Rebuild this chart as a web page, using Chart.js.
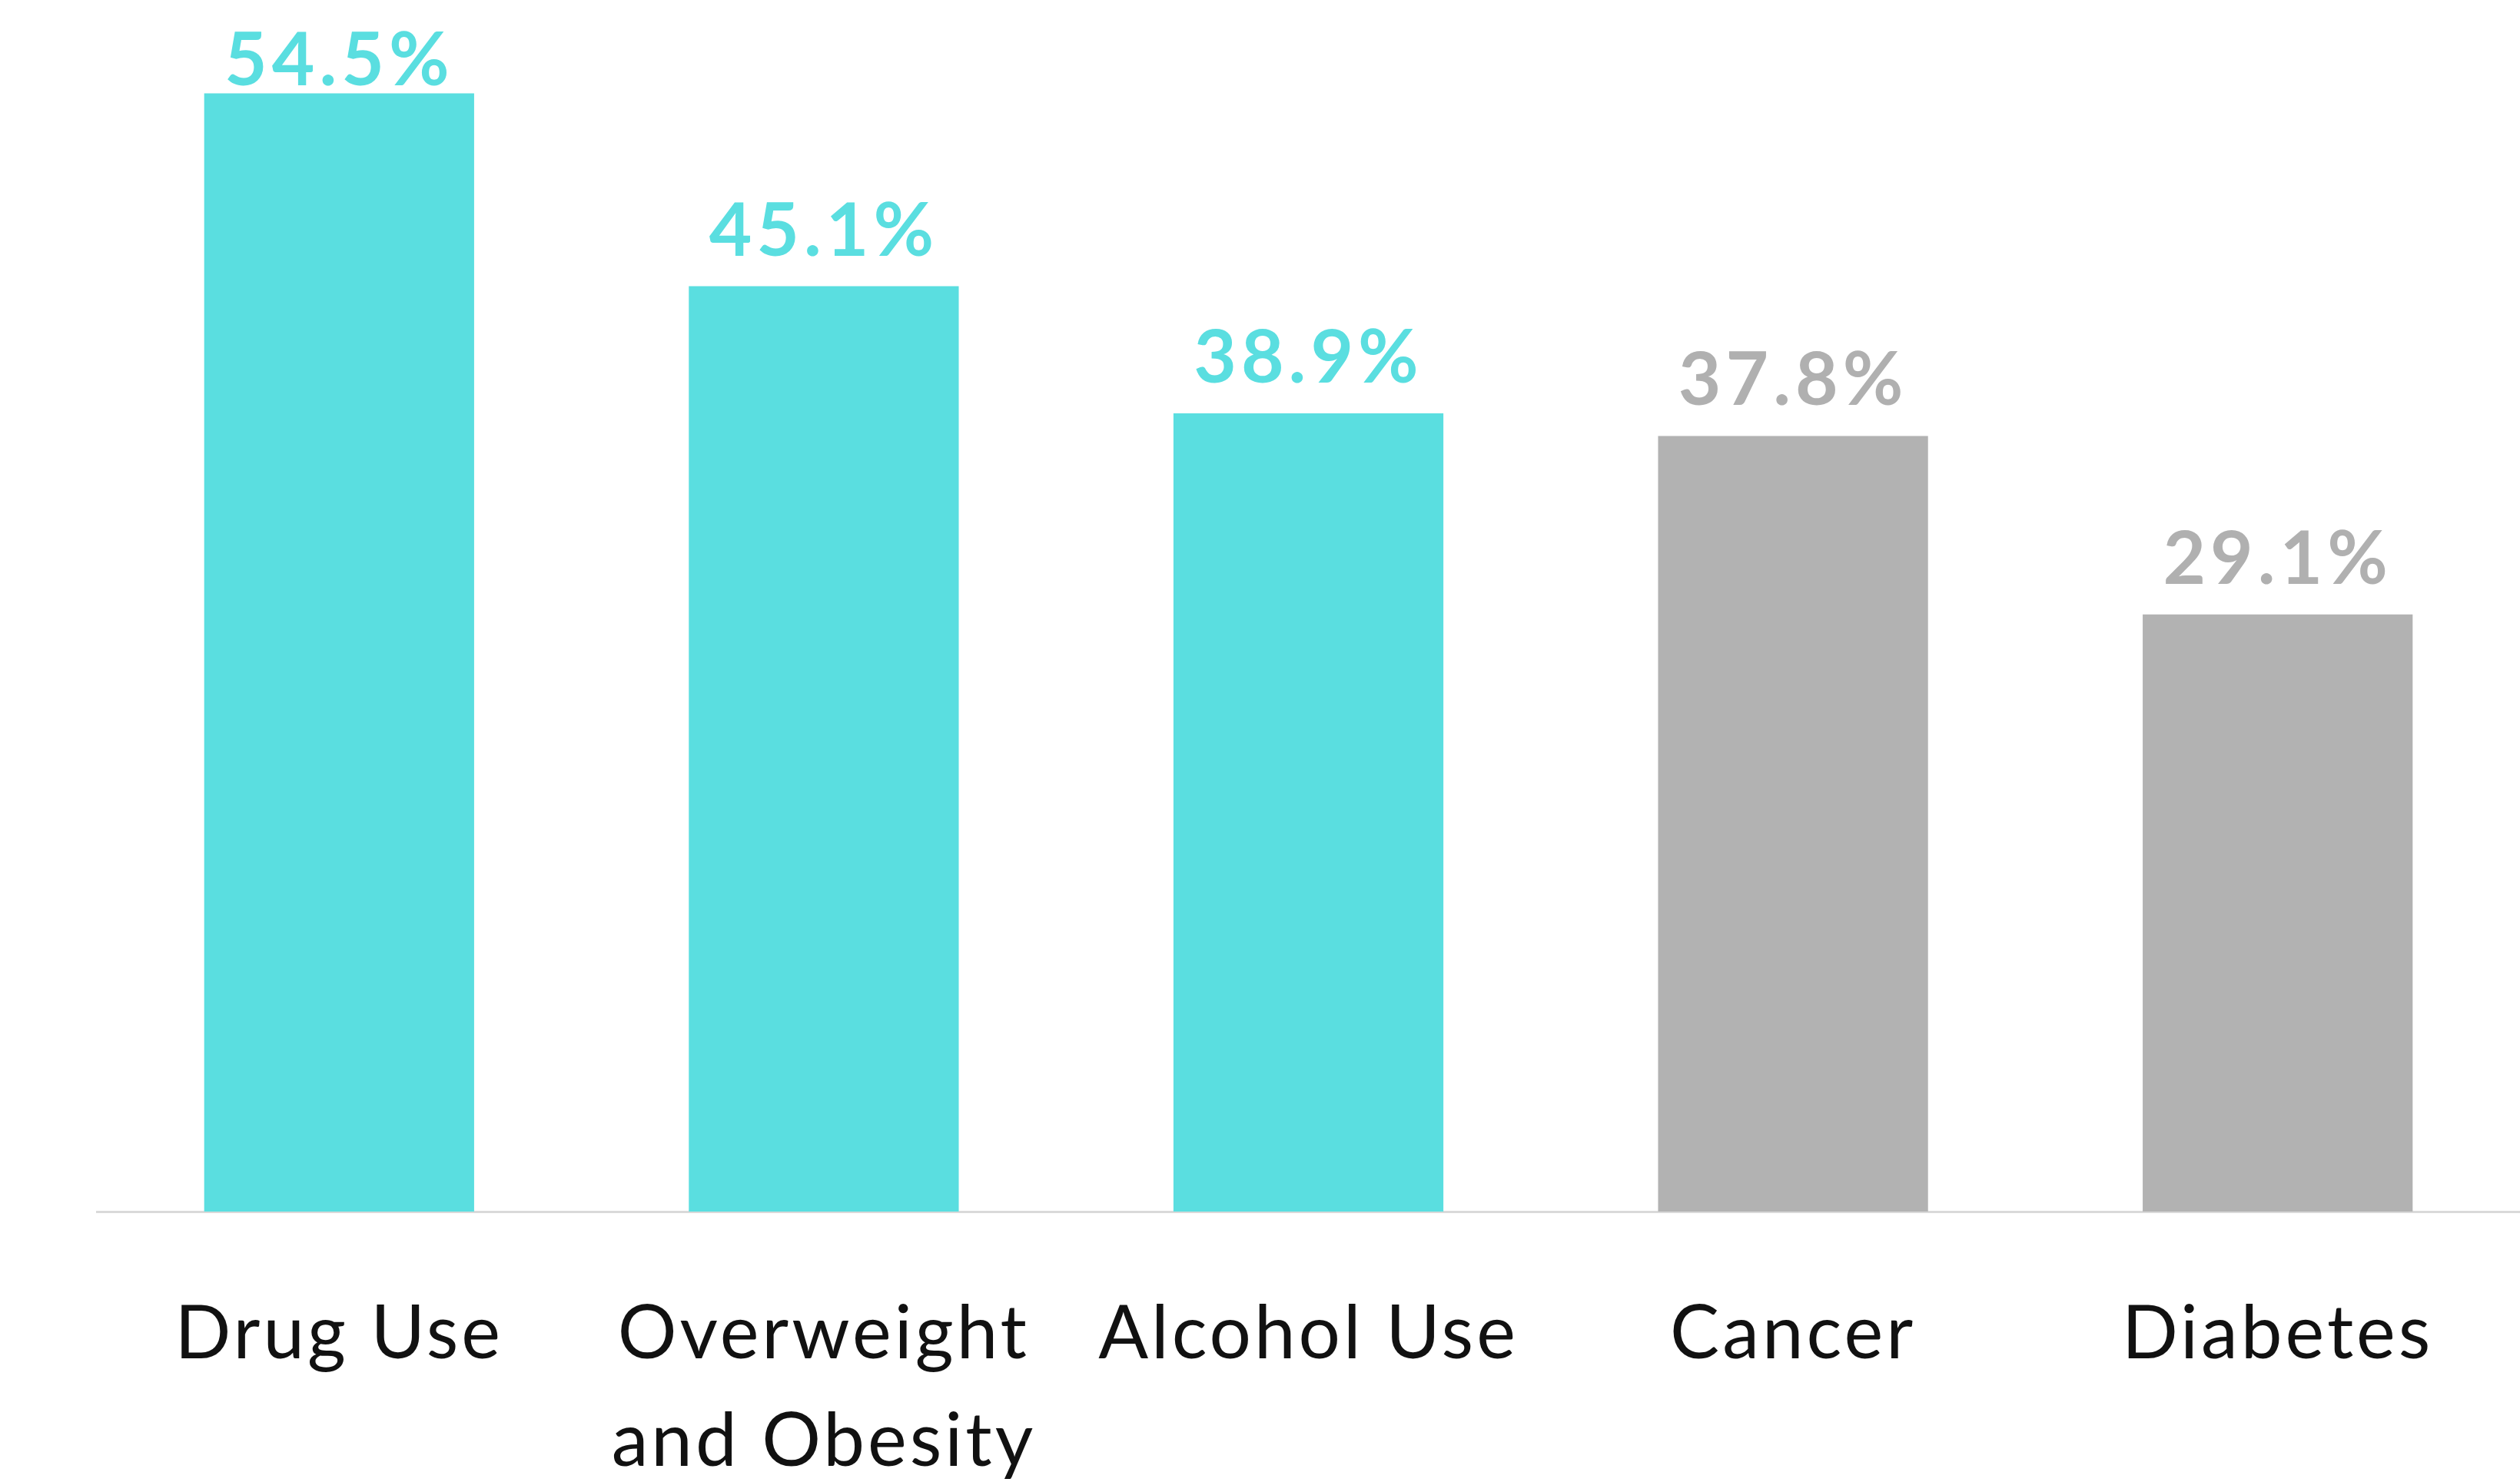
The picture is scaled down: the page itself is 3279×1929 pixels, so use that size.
<!DOCTYPE html>
<html>
<head>
<meta charset="utf-8">
<script src="https://cdn.jsdelivr.net/npm/chart.js@4.4.0/dist/chart.umd.min.js"></script>
<style>
  html, body { margin: 0; padding: 0; background: #ffffff; }
  #wrap { width: 3279px; height: 1929px; position: relative; }
</style>
</head>
<body>
<div id="wrap"><canvas id="risicoChart"></canvas></div>
<script>
// Data van de grafiek
var categories = [['Drug Use'], ['Overweight', 'and Obesity'], ['Alcohol Use'], ['Cancer'], ['Diabetes']];
var percentages = [54.5, 45.1, 38.9, 37.8, 29.1];
var barColors = ['#5adee0', '#5adee0', '#5adee0', '#b2b2b2', '#b2b2b2'];
var labelColors = ['#5adee0', '#5adee0', '#5adee0', '#b0b0b0', '#b0b0b0'];

// Iets meer ruimte tussen de letters, zoals in het origineel
var letterSpacing = {
    id: 'letterSpacing',
    beforeDraw: function (chart) {
        chart.ctx.letterSpacing = '4px';
    }
};

// Zet de waarde boven elke balk
var valueLabels = {
    id: 'valueLabels',
    afterDatasetsDraw: function (chart) {
        var ctx = chart.ctx;
        var bars = chart.getDatasetMeta(0).data;
        ctx.save();
        ctx.font = 'bold 96px Lato';
        ctx.letterSpacing = '6px';
        ctx.textAlign = 'center';
        ctx.textBaseline = 'alphabetic';
        for (var i = 0; i < bars.length; i++) {
            var y = Math.max(bars[i].y - 40, 111);
            ctx.fillStyle = labelColors[i];
            ctx.fillText(percentages[i].toFixed(1) + '%', bars[i].x, y);
        }
        ctx.restore();
    }
};

var ctx = document.getElementById('risicoChart').getContext('2d');
var chart = new Chart(ctx, {
    type: 'bar',
    data: {
        labels: categories,
        datasets: [{
            data: percentages,
            backgroundColor: barColors,
            borderWidth: 0,
            barPercentage: 0.557,
            categoryPercentage: 1
        }]
    },
    options: {
        responsive: true,
        maintainAspectRatio: false,
        animation: false,
        layout: { padding: { top: 28, left: 126, right: 0, bottom: 0 } },
        plugins: {
            legend: { display: false },
            tooltip: { enabled: false }
        },
        scales: {
            x: {
                grid: { display: false, drawTicks: false },
                border: { display: true, color: '#d9d9d9', width: 3 },
                ticks: {
                    color: '#111111',
                    padding: 90,
                    maxRotation: 0,
                    autoSkip: false,
                    font: { family: 'Lato', size: 96, lineHeight: 1.46 }
                },
                afterFit: function (scale) {
                    scale.height = 352;
                }
            },
            y: {
                display: false,
                min: 0,
                max: 58
            }
        }
    },
    plugins: [letterSpacing, valueLabels]
});
</script>
</body>
</html>
